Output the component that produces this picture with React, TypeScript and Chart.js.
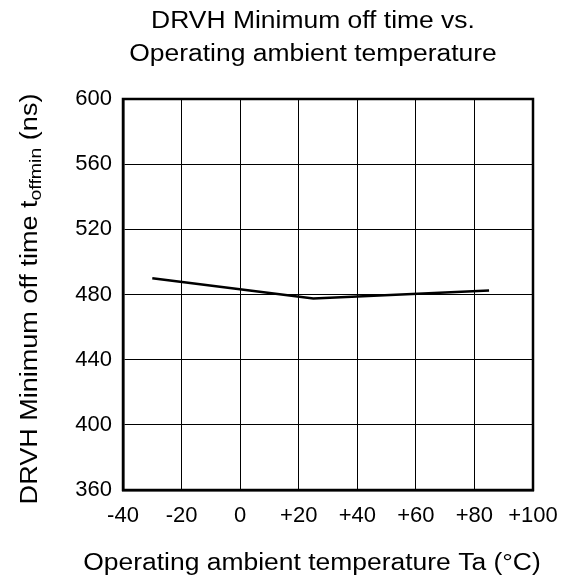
import React, { useEffect, useRef } from "react";
import { Chart, registerables } from "chart.js";

Chart.register(...registerables);

const temps = [-30, 25, 85];
const offTimes = [490, 477.5, 482.5];
const xTicks = [-40, -20, 0, 20, 40, 60, 80, 100];
const yTicks = [360, 400, 440, 480, 520, 560, 600];
const titleLines = ["DRVH Minimum off time vs.", "Operating ambient temperature"];
const xTitle = "Operating ambient temperature Ta (°C)";
const yTitleMain = "DRVH Minimum off time t";
const yTitleSub = "offmin";
const yTitleEnd = " (ns)";

const FONT = '"Liberation Sans", Arial, Helvetica, sans-serif';
const SX = 1.15;

function drawStretched(ctx: CanvasRenderingContext2D, text: string, x: number, y: number) {
  ctx.save();
  ctx.translate(x, y);
  ctx.scale(SX, 1);
  ctx.textAlign = "center";
  ctx.fillText(text, 0, 0);
  ctx.restore();
}

const textPlugin = {
  id: "customTexts",
  afterDraw(chart: any) {
    const ctx = chart.ctx as CanvasRenderingContext2D;
    ctx.save();
    ctx.fillStyle = "#000";
    ctx.textBaseline = "alphabetic";
    ctx.font = `23px ${FONT}`;
    drawStretched(ctx, titleLines[0], 313, 28);
    drawStretched(ctx, titleLines[1], 313, 61);
    drawStretched(ctx, xTitle, 312, 570);

    // Y title with subscript
    const mainFont = `23.5px ${FONT}`;
    const subFont = `17px ${FONT}`;
    ctx.font = mainFont;
    const w1 = ctx.measureText(yTitleMain).width;
    const w3 = ctx.measureText(yTitleEnd).width;
    ctx.font = subFont;
    const w2 = ctx.measureText(yTitleSub).width;
    const total = w1 + w2 + w3;
    ctx.translate(37, 299);
    ctx.rotate(-Math.PI / 2);
    ctx.scale(SX, 1);
    ctx.textAlign = "left";
    let x = -total / 2;
    ctx.font = mainFont;
    ctx.fillText(yTitleMain, x, 0);
    x += w1;
    ctx.font = subFont;
    ctx.fillText(yTitleSub, x, 4);
    x += w2;
    ctx.font = mainFont;
    ctx.fillText(yTitleEnd, x, 0);
    ctx.restore();
  },
};

export default function App() {
  const ref = useRef<HTMLCanvasElement | null>(null);
  useEffect(() => {
    if (!ref.current) return;
    const chart = new Chart(ref.current, {
      type: "line",
      data: {
        datasets: [
          {
            data: temps.map((t, i) => ({ x: t, y: offTimes[i] })),
            borderColor: "#000",
            borderWidth: 2.5,
            pointRadius: 0,
            tension: 0,
            fill: false,
          },
        ],
      },
      options: {
        animation: false,
        responsive: true,
        maintainAspectRatio: false,
        layout: { padding: { top: 99, right: 33, left: 0, bottom: 0 } },
        plugins: {
          legend: { display: false },
          tooltip: { enabled: false },
          title: { display: false },
        },
        scales: {
          x: {
            type: "linear",
            min: -40,
            max: 100,
            afterBuildTicks: (s: any) => {
              s.ticks = xTicks.map((v) => ({ value: v }));
            },
            afterFit: (s: any) => {
              s.height = 89;
              s.paddingLeft = 0;
              s.paddingRight = 0;
            },
            ticks: {
              color: "#000",
              font: { size: 22, family: FONT },
              padding: 13,
              maxRotation: 0,
              autoSkip: false,
              callback: (v: any) => (Number(v) > 0 ? "+" + v : String(v)),
            },
            grid: { color: "#000", lineWidth: 1, drawTicks: false },
            border: { color: "#000", width: 2.5 },
          },
          y: {
            type: "linear",
            min: 360,
            max: 600,
            afterBuildTicks: (s: any) => {
              s.ticks = yTicks.map((v) => ({ value: v }));
            },
            afterFit: (s: any) => {
              s.width = 123;
              s.paddingTop = 0;
              s.paddingBottom = 0;
            },
            ticks: {
              color: "#000",
              font: { size: 22, family: FONT },
              padding: 11,
              autoSkip: false,
            },
            grid: { color: "#000", lineWidth: 1, drawTicks: false },
            border: { color: "#000", width: 2.5 },
          },
        },
      },
      plugins: [
        textPlugin,
        {
          id: "frame",
          afterDatasetsDraw(chart: any) {
            const { ctx, chartArea } = chart;
            ctx.save();
            ctx.strokeStyle = "#000";
            ctx.lineWidth = 2.5;
            ctx.strokeRect(chartArea.left, chartArea.top, chartArea.right - chartArea.left, chartArea.bottom - chartArea.top);
            ctx.restore();
          },
        },
      ],
    } as any);
    return () => chart.destroy();
  }, []);
  return (
    <div style={{ position: "absolute", left: 0, top: 0, width: 566, height: 579, background: "#fff" }}>
      <canvas ref={ref} />
    </div>
  );
}
